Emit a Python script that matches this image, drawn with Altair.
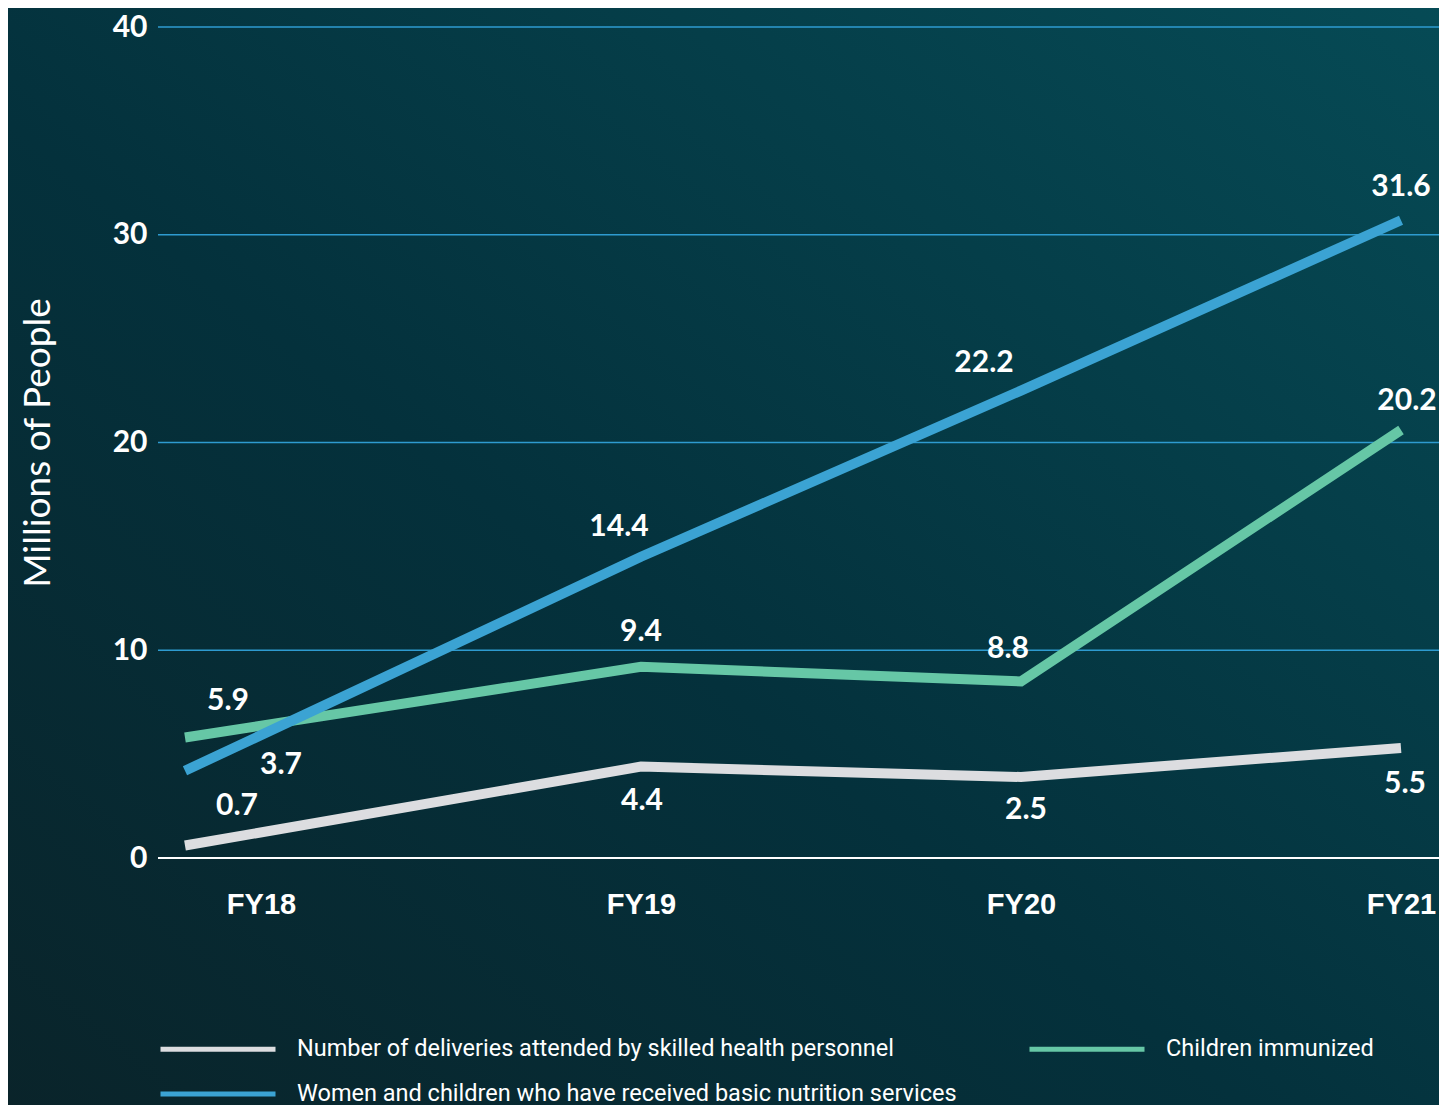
import altair as alt
import pandas as pd

# ---- data ----
years = ["FY18", "FY19", "FY20", "FY21"]
series_names = [
    "Number of deliveries attended by skilled health personnel",
    "Children immunized",
    "Women and children who have received basic nutrition services",
]
# plotted line positions (millions of people)
deliveries = [0.6, 4.4, 3.9, 5.3]
immunized = [5.8, 9.2, 8.5, 20.6]
nutrition = [4.2, 14.5, 22.5, 30.7]
# printed value labels
deliveries_labels = ["0.7", "4.4", "2.5", "5.5"]
immunized_labels = ["5.9", "9.4", "8.8", "20.2"]
nutrition_labels = ["3.7", "14.4", "22.2", "31.6"]
y_ticks = [0, 10, 20, 30, 40]

colors = ["#dcdde0", "#66c7a6", "#3ba3d3"]

rows = []
for name, vals, labs in zip(series_names,
                            [deliveries, immunized, nutrition],
                            [deliveries_labels, immunized_labels, nutrition_labels]):
    for i, (y, v, l) in enumerate(zip(years, vals, labs)):
        rows.append({"series": name, "year": y, "idx": i, "value": v, "label": l})
df = pd.DataFrame(rows)

W, H = 1281, 831
FONT = "Lato"

x_scale = alt.Scale(domain=[-0.271, 3.1], nice=False, zero=False)
y_scale = alt.Scale(domain=[0, 40], nice=False)

# background gradient
bg = alt.Chart(pd.DataFrame({"a": [0]})).mark_rect(
    fill=alt.Gradient(
        gradient="linear",
        stops=[
            alt.GradientStop(color="#0a2329", offset=0),
            alt.GradientStop(color="#04313c", offset=0.45),
            alt.GradientStop(color="#064b56", offset=1),
        ],
        x1=0, x2=1, y1=1, y2=0,
    ),
    strokeWidth=0,
).encode(
    x=alt.value(-160), x2=alt.value(W + 20),
    y=alt.value(-30), y2=alt.value(H + 300),
)

grid_df = pd.DataFrame({"v": y_ticks[1:]})
grid = alt.Chart(grid_df).mark_rule(color="#2e9bd0", strokeWidth=1.6).encode(
    y=alt.Y("v:Q", scale=y_scale)
)
baseline = alt.Chart(pd.DataFrame({"v": [0]})).mark_rule(color="#ffffff", strokeWidth=2).encode(
    y=alt.Y("v:Q", scale=y_scale)
)

base = alt.Chart(df)

lines = base.mark_line(strokeWidth=10, strokeCap="butt", strokeJoin="miter").transform_calculate(
    xpos="datum.idx === 0 ? -0.2 : datum.idx"
).encode(
    x=alt.X("xpos:Q", scale=x_scale,
            axis=alt.Axis(values=[0, 1, 2, 3],
                          labelExpr="['FY18','FY19','FY20','FY21'][datum.value]",
                          grid=False, ticks=False, domain=False,
                          labelFontSize=29, labelFontWeight="bold",
                          labelColor="#ffffff", labelFont="Liberation Sans", labelPadding=32,
                          title=None, zindex=1)),
    y=alt.Y("value:Q", scale=y_scale,
            axis=alt.Axis(values=y_ticks, grid=False, ticks=False, domain=False,
                          labelFontSize=30, labelFontWeight="bold", labelColor="#ffffff",
                          labelFont=FONT, labelPadding=11, title="Millions of People",
                          titleFont=FONT, titleFontSize=37, titleFontWeight="normal",
                          titleColor="#ffffff", titlePadding=55, zindex=1)),
    color=alt.Color("series:N",
                    scale=alt.Scale(domain=series_names, range=colors),
                    legend=alt.Legend(
                        orient="none", legendX=46, legendY=1008, direction="horizontal",
                        columns=2, title=None, symbolType="M-5,0H5", symbolSize=529,
                        symbolStrokeWidth=5, labelFont="Roboto", labelFontSize=23.5,
                        labelColor="#ffffff", labelOffset=65, labelLimit=1000,
                        columnPadding=62, rowPadding=19, symbolOpacity=1, zindex=1,
                    )),
    detail="series:N",
)

# label offsets (styling): keyed by (series index, year index)
offsets = {
    (0, 0): (52, -40), (0, 1): (1, 34), (0, 2): (5, 33), (0, 3): (4, 36),
    (1, 0): (43, -37), (1, 1): (0, -35), (1, 2): (-13, -32), (1, 3): (6, -29),
    (2, 0): (96, -6), (2, 1): (-22, -30), (2, 2): (-37, -28), (2, 3): (0, -33),
}

label_layers = []
for (si, yi), (dx, dy) in offsets.items():
    sub = df[(df.series == series_names[si]) & (df.idx == yi)]
    t = alt.Chart(sub).mark_text(
        font=FONT, fontSize=30, fontWeight="bold", color="#ffffff",
        align="center", baseline="middle", dx=dx, dy=dy,
    ).transform_calculate(
        xpos="datum.idx === 0 ? -0.2 : datum.idx"
    ).encode(
        x=alt.X("xpos:Q", scale=x_scale),
        y=alt.Y("value:Q", scale=y_scale),
        text="label:N",
    )
    label_layers.append(t)

chart = alt.layer(bg, grid, baseline, lines, *label_layers).properties(
    width=W, height=H,
    autosize=alt.AutoSizeParams(type="none"),
    padding={"left": 150, "top": 19, "right": 0, "bottom": 260},
).configure(
    background="#06303b",
).configure_view(
    stroke=None,
)

chart.save("out.html", embed_options={"renderer": "svg", "actions": False})
